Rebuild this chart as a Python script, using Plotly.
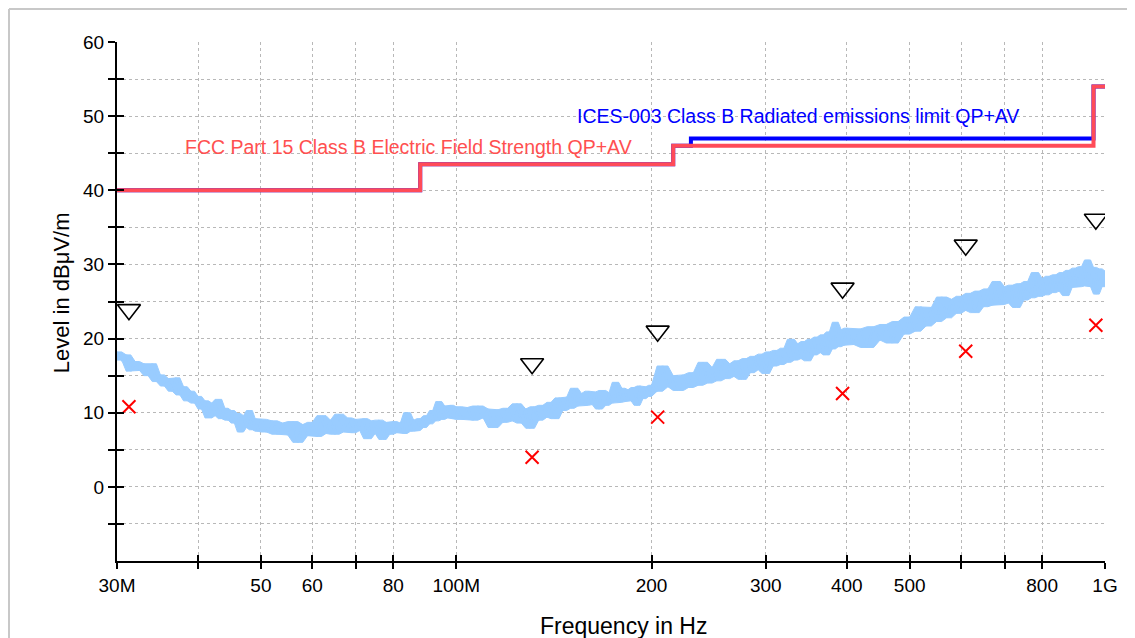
import math
import plotly.graph_objects as go

# ---------------- data ----------------
# measured spectrum (MHz, dBµV/m)
freq_mhz = [
    30.0, 30.5, 31.0, 31.5, 32.0, 32.5, 33.0, 33.5, 34.0, 34.5, 35.0, 35.5, 36.0, 36.5, 37.0, 37.5,
    38.0, 38.5, 39.0, 39.5, 40.0, 40.5, 41.0, 41.5, 42.0, 42.5, 43.0, 43.5, 44.0, 44.5, 45.0, 45.5,
    46.0, 46.5, 47.0, 47.5, 48.0, 48.5, 49.0, 49.5, 50.0,
    51, 52, 53, 54, 55, 56, 57, 58, 59, 60, 61, 62, 63, 64, 65, 66, 67, 68, 69, 70,
    71, 72, 73, 74, 75, 76, 77, 78, 79, 80, 81, 82, 83, 84, 85, 86, 87, 88, 89, 90,
    91, 92, 93, 94, 95, 96, 97, 98, 99, 100,
    102, 104, 106, 108, 110, 112, 114, 116, 118, 120, 122, 124, 126, 128, 130, 132, 134, 136,
    138, 140, 142, 144, 146, 148, 150, 152, 154, 156, 158, 160, 162, 164, 166, 168, 170, 172,
    174, 176, 178, 180, 182, 184, 186, 188, 190, 192, 194, 196, 198, 200,
    204, 208, 212, 216, 220, 224, 228, 232, 236, 240, 244, 248, 252, 256, 260, 264, 268, 272,
    276, 280, 284, 288, 292, 296, 300, 304, 308, 312, 316, 320, 324, 328, 332, 336, 340, 344,
    348, 352, 356, 360, 364, 368, 372, 376, 380, 384, 388, 392, 396, 400,
    410, 420, 430, 440, 450, 460, 470, 480, 490, 500, 510, 520, 530, 540, 550, 560, 570, 580,
    590, 600, 610, 620, 630, 640, 650, 660, 670, 680, 690, 700, 710, 720, 730, 740, 750, 760,
    770, 780, 790, 800, 810, 820, 830, 840, 850, 860, 870, 880, 890, 900, 910, 920, 930, 940,
    950, 960, 970, 980, 990, 1000,
]
level_db = [
    18.2, 17.1, 17.8, 15.6, 16.9, 15.7, 16.6, 15.0, 16.6, 14.2, 15.1, 13.6, 14.6, 12.9, 14.7, 12.4,
    13.5, 11.6, 12.9, 11.3, 12.2, 10.5, 11.6, 9.3, 11.3, 9.6, 11.8, 9.2, 10.6, 9.0, 10.3, 8.6,
    9.9, 7.4, 9.6, 8.0, 10.3, 7.7, 9.2, 7.5, 9.1,
    7.4, 8.9, 7.1, 8.6, 7.0, 8.8, 6.0, 8.4, 6.9, 8.7, 6.8, 9.6, 7.2, 9.0, 7.1, 9.8, 7.4, 9.3, 7.3, 9.1,
    7.6, 9.2, 6.5, 8.9, 7.2, 9.0, 6.4, 8.7, 7.1, 8.8, 7.3, 8.6, 7.2, 10.0, 7.5, 9.0, 7.6, 9.2, 8.0, 9.6,
    8.5, 10.3, 8.9, 11.5, 9.1, 10.9, 9.3, 11.0, 9.2, 10.8,
    9.1, 10.7, 9.0, 10.9, 9.3, 10.5, 8.0, 10.4, 8.7, 10.6, 8.9, 11.2, 8.6, 10.5, 7.9, 10.8, 9.0, 11.0,
    9.4, 11.4, 9.2, 12.0, 10.3, 12.1, 10.6, 13.3, 10.9, 12.6, 11.0, 12.9, 11.1, 12.8, 10.5, 13.0, 11.0, 12.7,
    11.3, 14.1, 11.4, 13.3, 11.5, 13.1, 11.6, 13.4, 11.0, 13.6, 11.9, 13.5, 12.2, 13.7,
    12.9, 16.3, 13.5, 15.0, 13.0, 15.1, 13.4, 15.4, 13.7, 16.8, 14.0, 16.1, 14.3, 17.2, 14.6, 16.6, 14.9, 17.0,
    14.5, 17.3, 15.4, 17.6, 15.8, 17.9, 15.3, 18.2, 16.3, 18.4, 16.5, 18.7, 16.8, 19.9, 17.1, 19.3, 17.3, 19.6,
    17.0, 19.9, 17.8, 20.2, 18.1, 20.5, 17.8, 20.9, 18.6, 22.2, 18.9, 21.2, 19.1, 21.4,
    19.2, 21.3, 18.8, 21.6, 19.8, 21.9, 19.4, 22.3, 20.6, 22.9, 21.0, 24.3, 21.7, 24.2, 22.3, 25.6, 22.8, 25.3,
    23.4, 25.7, 23.8, 26.1, 23.5, 26.4, 24.3, 26.7, 24.5, 27.7, 24.6, 27.0, 24.8, 27.2, 24.2, 27.4, 25.2, 27.7,
    25.5, 28.9, 25.7, 28.1, 25.9, 28.4, 26.2, 28.6, 26.4, 28.9, 25.8, 29.2, 26.9, 29.5, 27.0, 29.7, 27.1, 30.6,
    27.0, 29.6, 26.0, 29.4, 27.0, 29.1,
]

# limit lines (step breakpoints, MHz / dBµV/m)
fcc_freq = [30, 88, 216, 960, 1000]
fcc_level = [40, 43.5, 46, 54, 54]
ices_freq = [30, 88, 216, 230, 960, 1000]
ices_level = [40, 43.5, 46, 47, 54, 54]

# final measurement points
peak_freq = [31.3, 130.9, 204.4, 394, 610, 968]
peak_level = [23.9, 16.6, 21.0, 26.8, 32.6, 36.1]
avg_freq = [31.3, 130.9, 204.4, 394, 610, 968]
avg_level = [10.8, 4.0, 9.4, 12.6, 18.3, 21.8]

# axes
x_tickvals_mhz = [30, 40, 50, 60, 70, 80, 100, 200, 300, 400, 500, 600, 700, 800, 1000]
x_ticktext = ["30M", "", "50", "60", "", "80", "100M", "200", "300", "400", "500", "", "", "800", "1G"]
y_tickvals = [-5, 0, 5, 10, 15, 20, 25, 30, 35, 40, 45, 50, 55, 60]
y_ticktext = ["", "0", "", "10", "", "20", "", "30", "", "40", "", "50", "", "60"]

fcc_label = "FCC Part 15 Class B Electric Field Strength QP+AV"
ices_label = "ICES-003 Class B Radiated emissions limit QP+AV"

MHZ = 1e6
def hz(v):
    return [f * MHZ for f in v]

FONT = "Liberation Sans, Arial, sans-serif"
RED = "#FF4B58"
BLUE = "#0000FF"
TRACE = "#99CCFF"

# envelope of the noisy trace (neighbouring samples) to render it as a band
n = len(level_db)
upper = [max(level_db[max(0, i - 1):i + 2]) for i in range(n)]
lower = [min(level_db[max(0, i - 1):i + 2]) for i in range(n)]

fig = go.Figure()
fig.add_trace(go.Scatter(x=hz(freq_mhz), y=lower, mode="lines",
                         line=dict(color=TRACE, width=1), showlegend=False))
fig.add_trace(go.Scatter(x=hz(freq_mhz), y=upper, mode="lines", fill="tonexty",
                         fillcolor=TRACE, line=dict(color=TRACE, width=1), showlegend=False))
fig.add_trace(go.Scatter(x=hz(freq_mhz), y=level_db, mode="lines",
                         line=dict(color=TRACE, width=2), showlegend=False))
fig.add_trace(go.Scatter(x=hz(ices_freq), y=ices_level, mode="lines", line_shape="hv",
                         line=dict(color=BLUE, width=4), showlegend=False))
fig.add_trace(go.Scatter(x=hz(fcc_freq), y=fcc_level, mode="lines", line_shape="hv",
                         line=dict(color=RED, width=4), showlegend=False))
fig.add_trace(go.Scatter(x=hz(peak_freq), y=peak_level, mode="markers",
                         marker=dict(symbol="triangle-down-open", size=20, color="black",
                                     line=dict(color="black", width=1.6)),
                         showlegend=False))
fig.add_trace(go.Scatter(x=hz(avg_freq), y=avg_level, mode="markers",
                         marker=dict(symbol="x-thin-open", size=13, color="#FF0000",
                                     line=dict(color="#FF0000", width=2)),
                         showlegend=False))
# helper trace so overlay axes (inner tick halves) are drawn
fig.add_trace(go.Scatter(x=[None], y=[None], xaxis="x2", yaxis="y2", mode="lines",
                         showlegend=False, hoverinfo="skip"))

xr = [math.log10(30 * MHZ), math.log10(1000 * MHZ)]
yr = [-10, 60]
tv = hz(x_tickvals_mhz)

common_x = dict(type="log", range=xr, tickvals=tv, zeroline=False, automargin=False)
common_y = dict(range=yr, tickvals=y_tickvals, zeroline=False, automargin=False)

fig.update_layout(
    width=1127, height=630,
    margin=dict(l=109, r=30, t=34, b=77),
    paper_bgcolor="white", plot_bgcolor="white",
    font=dict(family=FONT, color="black"),
    xaxis=dict(**common_x, ticktext=x_ticktext, showgrid=True, gridcolor="#b8b8b8",
               griddash="dot", gridwidth=1, ticks="outside", ticklen=6, tickwidth=2,
               tickcolor="black", showline=True, linecolor="black", linewidth=2,
               tickfont=dict(family=FONT, size=19, color="black")),
    yaxis=dict(**common_y, ticktext=y_ticktext, showgrid=True, gridcolor="#b8b8b8",
               griddash="dot", gridwidth=1, ticks="outside", ticklen=7, tickwidth=2,
               tickcolor="black", showline=True, linecolor="black", linewidth=2,
               tickfont=dict(family=FONT, size=19, color="black")),
    xaxis2=dict(**common_x, overlaying="x", anchor="y2", showgrid=False, showline=False,
                ticks="inside", ticklen=6, tickwidth=2, tickcolor="black",
                showticklabels=False, side="bottom"),
    yaxis2=dict(**common_y, overlaying="y", anchor="x2", showgrid=False, showline=False,
                ticks="inside", ticklen=7, tickwidth=2, tickcolor="black",
                showticklabels=False, side="left"),
    hovermode=False,
)

# texts
fig.add_annotation(text=fcc_label, xref="paper", yref="paper", x=0.0668, y=0.7977,
                   xanchor="left", yanchor="middle", showarrow=False,
                   font=dict(family=FONT, size=19.5, color="#FF5050"))
fig.add_annotation(text=ices_label, xref="paper", yref="paper", x=0.4636, y=0.8574,
                   xanchor="left", yanchor="middle", showarrow=False,
                   font=dict(family=FONT, size=19.5, color=BLUE))
fig.add_annotation(text="Frequency in Hz", xref="paper", yref="paper", x=0.513, y=-0.125,
                   xanchor="center", yanchor="middle", showarrow=False,
                   font=dict(family=FONT, size=23, color="black"))
fig.add_annotation(text="Level in dBμV/m", xref="paper", yref="paper", x=-0.0567, y=0.518,
                   xanchor="center", yanchor="middle", showarrow=False, textangle=-90,
                   font=dict(family=FONT, size=22, color="black"))

# outer frame: top and left edges only
fig.add_shape(type="line", xref="paper", yref="paper", x0=-0.1093, x1=1.2, y0=1.0636, y1=1.0636,
              line=dict(color="#c8c8c8", width=2), layer="below")
fig.add_shape(type="line", xref="paper", yref="paper", x0=-0.1093, x1=-0.1093, y0=-0.3, y1=1.0636,
              line=dict(color="#c8c8c8", width=2), layer="below")

fig.write_html("out.html")
